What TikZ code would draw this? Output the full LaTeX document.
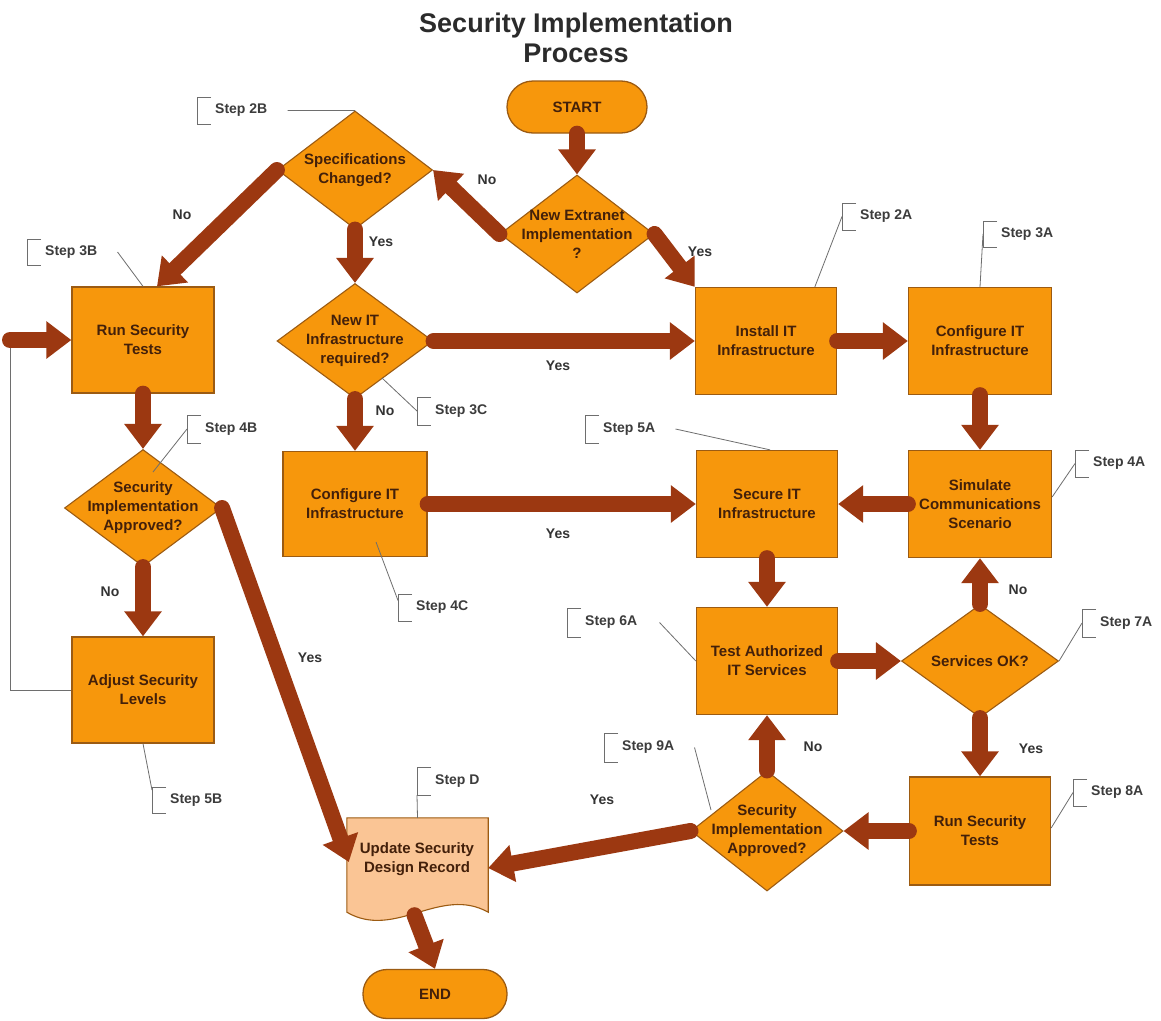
\documentclass[tikz,border=0pt]{standalone}
\usepackage{fontspec}
\setmainfont{Liberation Sans}
\usetikzlibrary{shapes.geometric,arrows.meta,calc}
\definecolor{boxfill}{HTML}{F7970C}
\definecolor{boxline}{HTML}{9C5B12}
\definecolor{arrowc}{HTML}{9C3811}
\definecolor{boxtext}{HTML}{43200A}
\definecolor{docfill}{HTML}{FAC595}
\definecolor{lbltext}{HTML}{333333}
\definecolor{steptext}{HTML}{3C3C3C}
\definecolor{noteline}{HTML}{6E6E6E}
\definecolor{titletext}{HTML}{2B2B2B}
\newcommand\stepnote[5]{%
  \draw[bracket] ({#2+14},#3) -- (#2,#3) -- (#2,#4) -- ({#2+14},#4);
  \coordinate (#1b) at (#2,{(#3+#4)/2});
  \node[stepname] (#1) at ({#2+18},{(#3+#4)/2}) {#5};
}
\begin{document}
\begin{tikzpicture}[x=1pt,y=-1pt,
  proc/.style={rectangle,draw=boxline,line width=1.3pt,fill=boxfill,minimum width=142pt,minimum height=106pt,inner sep=0pt},
  dia/.style={diamond,draw=boxline,line width=1.1pt,fill=boxfill,inner sep=0pt},
  term/.style={rectangle,rounded corners=26pt,draw=boxline,line width=1.3pt,fill=boxfill,minimum width=140pt,minimum height=52pt,inner sep=0pt},
  txt/.style={font=\fontsize{15}{19}\selectfont\bfseries,text=boxtext,align=center,inner sep=0pt},
  lbl/.style={font=\fontsize{14}{17}\selectfont\bfseries,text=lbltext,inner sep=0pt},
  stepname/.style={font=\fontsize{14}{17}\selectfont\bfseries,text=steptext,anchor=west,inner sep=0pt},
  bracket/.style={draw=noteline,line width=0.9pt},
  leader/.style={draw=noteline,line width=0.8pt},
  loopline/.style={draw=noteline,line width=1pt},
  docshape/.style={draw=boxline,line width=1.1pt,fill=docfill},
  bigarrow/.style={draw=arrowc,line width=16pt,line cap=round,-{Triangle[width=36pt,length=25pt]}},
]
\useasboundingbox[fill=white] (0,0) rectangle (1161,1020);

% title
\node[font=\fontsize{27}{30}\selectfont\bfseries,text=titletext,align=center,inner sep=0pt] (title) at (576,38) {Security Implementation\\Process};

% shapes
\node[term] (start) at (577,107) {};
\node[txt] (startT) at (start) {START};
\node[dia,minimum width=154pt,minimum height=118pt] (ext) at (577,234) {};
\node[txt] (extT) at (ext) {New Extranet\\Implementation\\?};
\node[dia,minimum width=155pt,minimum height=118pt] (spec) at (355,170) {};
\node[txt] (specT) at (spec) {Specifications\\Changed?};
\node[dia,minimum width=156pt,minimum height=115pt] (newit) at (355,341) {};
\node[txt] (newitT) at (newit) {New IT\\Infrastructure\\required?};
\node[proc] (runB) at (143,340) {};
\node[txt] (runBT) at (runB) {Run Security\\Tests};
\node[dia,minimum width=157pt,minimum height=117pt] (appB) at (143,508) {};
\node[txt] (appBT) at (appB) {Security\\Implementation\\Approved?};
\node[proc] (adj) at (143,690) {};
\node[txt] (adjT) at (adj) {Adjust Security\\Levels};
\node[proc,minimum width=144pt,minimum height=105pt] (confC) at (355,504) {};
\node[txt] (confCT) at (confC) {Configure IT\\Infrastructure};
\node[proc,minimum width=141pt,minimum height=107pt] (inst) at (766,341) {};
\node[txt] (instT) at (inst) {Install IT\\Infrastructure};
\node[proc,minimum width=143pt,minimum height=107pt] (confA) at (980,341) {};
\node[txt] (confAT) at (confA) {Configure IT\\Infrastructure};
\node[proc,minimum width=141pt,minimum height=107pt] (sec) at (767,504) {};
\node[txt] (secT) at (sec) {Secure IT\\Infrastructure};
\node[proc,minimum width=143pt,minimum height=107pt] (sim) at (980,504) {};
\node[txt] (simT) at (sim) {Simulate\\Communications\\Scenario};
\node[proc,minimum width=141pt,minimum height=107pt] (test) at (767,661) {};
\node[txt] (testT) at (test) {Test Authorized\\IT Services};
\node[dia,minimum width=157pt,minimum height=113pt] (ok) at (980,661) {};
\node[txt] (okT) at (ok) {Services OK?};
\node[proc,minimum width=141pt,minimum height=108pt] (runA) at (980,831) {};
\node[txt] (runAT) at (runA) {Run Security\\Tests};
\node[dia,minimum width=152pt,minimum height=120pt] (appA) at (767,831) {};
\node[txt] (appAT) at (appA) {Security\\Implementation\\Approved?};
\node[minimum width=141pt,minimum height=94pt,inner sep=0pt] (upd) at (417.5,865) {};
\draw[docshape] (upd.north west) -- (upd.north east) -- (upd.south east)
  .. controls ($(upd.south east)+(-48,-27)$) and ($(upd.south west)+(48,28)$) .. (upd.south west) -- cycle;
\node[txt] (updT) at (417,859) {Update Security\\Design Record};
\node[term,minimum width=144pt,minimum height=49pt,rounded corners=24pt] (end) at (435,994) {};
\node[txt] (endT) at (end) {END};

% step notes
\stepnote{s2B}{197}{97}{124}{Step 2B}
\stepnote{s3B}{27}{239}{265}{Step 3B}
\stepnote{s2A}{842}{203}{230}{Step 2A}
\stepnote{s3A}{983}{221}{247}{Step 3A}
\stepnote{s3C}{417}{397}{425}{Step 3C}
\stepnote{s4B}{187}{415}{443}{Step 4B}
\stepnote{s5A}{585}{415}{443}{Step 5A}
\stepnote{s4A}{1075}{450}{477}{Step 4A}
\stepnote{s4C}{398}{594}{621}{Step 4C}
\stepnote{s6A}{567}{608}{637}{Step 6A}
\stepnote{s7A}{1082}{609}{637}{Step 7A}
\stepnote{s8A}{1073}{779}{806}{Step 8A}
\stepnote{s9A}{604}{733}{762}{Step 9A}
\stepnote{s5B}{152}{787}{813}{Step 5B}
\stepnote{sD}{417}{767}{795}{Step D}

\draw[leader] ($(s2B.east)+(20,0)$) -- (spec.north);
\draw[leader] ($(s3B.east)+(20,0)$) -- (runB.north);
\draw[leader] (s2Ab) -- ($(inst.north west)+(120,0)$);
\draw[leader] (s3Ab) -- (confA.north);
\draw[leader] ($(newit)+(27,37)$) -- (s3Cb);
\draw[leader] (s4Bb) -- ($(appB)+(10,-36)$);
\draw[leader] ($(s5A.east)+(20,0)$) -- ($(sec.north)+(3,0)$);
\draw[leader] (s4Ab) -- ($(sim.east)+(0,-7)$);
\draw[leader] ($(confC)+(21,38)$) -- ($(s4Cb)+(0,-7)$);
\draw[leader] ($(s6A.east)+(22,0)$) -- (test.west);
\draw[leader] (s7Ab) -- (ok.east);
\draw[leader] (s8Ab) -- ($(runA.east)+(0,-3)$);
\draw[leader] ($(s9A.east)+(20,0)$) -- ($(appA)+(-56,-21)$);
\draw[leader] (adj.south) -- ($(s5Bb)+(0,-10)$);
\draw[leader] ($(sDb)+(0,14)$) -- (upd.north);

% loop-back line
\coordinate (loopA) at (10,690);
\coordinate (loopB) at (10,340);
\draw[loopline] (adj.west) -- (loopA) -- (loopB);

% arrows
\coordinate (runBin) at ($(runB.north)+(14,0)$);
\coordinate (updW) at ($(upd.west)+(2,-3)$);
\coordinate (updE) at ($(upd.east)+(0,3)$);
\coordinate (updB) at ($(upd.south)+(-3,3)$);
\draw[bigarrow] (start.south) -- (ext.north);
\draw[bigarrow] (ext.west) -- (spec.east);
\draw[bigarrow] (ext.east) -- (inst.north west);
\draw[bigarrow] (spec.west) -- (runBin);
\draw[bigarrow] (spec.south) -- (newit.north);
\draw[bigarrow] (newit.east) -- (inst.west);
\draw[bigarrow] (newit.south) -- (confC.north);
\draw[bigarrow] (confC.east) -- (sec.west);
\draw[bigarrow] (inst.east) -- (confA.west);
\draw[bigarrow] (confA.south) -- (sim.north);
\draw[bigarrow] (sim.west) -- (sec.east);
\draw[bigarrow] (sec.south) -- (test.north);
\draw[bigarrow] (test.east) -- (ok.west);
\draw[bigarrow] (ok.north) -- (sim.south);
\draw[bigarrow] (ok.south) -- (runA.north);
\draw[bigarrow] (runA.west) -- (appA.east);
\draw[bigarrow] (appA.north) -- (test.south);
\draw[bigarrow] (appA.west) -- (updE);
\draw[bigarrow] (runB.south) -- (appB.north);
\draw[bigarrow] (appB.south) -- (adj.north);
\draw[bigarrow] (appB.east) -- (updW);
\draw[bigarrow] (updB) -- (end.north);
\draw[bigarrow] (loopB) -- (runB.west);

% branch labels
\node[lbl] (l1) at (487,180) {No};
\node[lbl] (l2) at (182,215) {No};
\node[lbl] (l3) at (381,242) {Yes};
\node[lbl] (l4) at (700,252) {Yes};
\node[lbl] (l5) at (558,366) {Yes};
\node[lbl] (l6) at (385,411) {No};
\node[lbl] (l7) at (558,534) {Yes};
\node[lbl] (l8) at (1018,590) {No};
\node[lbl] (l9) at (1031,749) {Yes};
\node[lbl] (l10) at (813,747) {No};
\node[lbl] (l11) at (602,800) {Yes};
\node[lbl] (l12) at (110,592) {No};
\node[lbl] (l13) at (310,658) {Yes};
\end{tikzpicture}
\end{document}
